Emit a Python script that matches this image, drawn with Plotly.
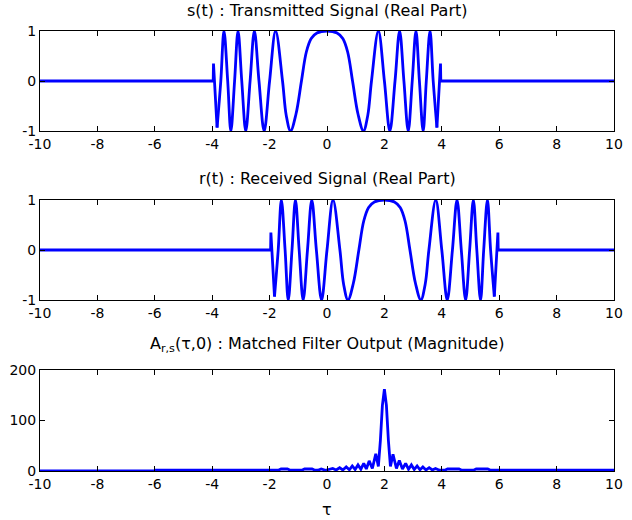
import plotly.graph_objects as go

# ---------------- data ----------------
# s(t): transmitted signal, real part (oscillating core, |t| < 3.9)
s_t = [-3.83, -3.70, -3.59, -3.46, -3.35, -3.22, -3.10, -2.97, -2.83, -2.68, -2.53, -2.37,
       -2.19, -2.00, -1.79, -1.55, -1.42, -1.27, -1.08, -0.89, -0.72, -0.55, -0.35, 0.0,
       0.35, 0.55, 0.72, 0.89, 1.08, 1.27, 1.42, 1.55, 1.79, 2.00, 2.19, 2.37, 2.53, 2.68,
       2.83, 2.97, 3.10, 3.22, 3.35, 3.46, 3.59, 3.70, 3.83]
s_v = [-0.93, 0.0, 1.0, 0.0, -1.0, 0.0, 1.0, 0.0, -1.0, 0.0, 1.0, 0.0,
       -1.0, 0.0, 1.0, 0.0, -0.69, -1.0, -0.66, 0.0, 0.58, 0.85, 0.96, 1.0,
       0.96, 0.85, 0.58, 0.0, -0.66, -1.0, -0.69, 0.0, 1.0, 0.0, -1.0, 0.0, 1.0, 0.0,
       -1.0, 0.0, 1.0, 0.0, -1.0, 0.0, 1.0, 0.0, -0.93]
# s(t): flat parts and the jumps at the pulse edges
s_left_t = [-10, -3.965, -3.955, -3.83]
s_left_v = [0.0, 0.0, 0.35, -0.93]
s_right_t = [3.83, 3.955, 3.965, 10]
s_right_v = [-0.93, 0.35, 0.0, 0.0]

# r(t): received signal, real part
r_t = [-1.83, -1.70, -1.59, -1.46, -1.35, -1.22, -1.10, -0.97, -0.83, -0.68, -0.53, -0.37,
       -0.19, 0.00, 0.21, 0.45, 0.58, 0.73, 0.92, 1.11, 1.28, 1.45, 1.65, 2.0,
       2.35, 2.55, 2.72, 2.89, 3.08, 3.27, 3.42, 3.55, 3.79, 4.00, 4.19, 4.37, 4.53, 4.68,
       4.83, 4.97, 5.10, 5.22, 5.35, 5.46, 5.59, 5.70, 5.83]
r_v = [-0.93, 0.0, 1.0, 0.0, -1.0, 0.0, 1.0, 0.0, -1.0, 0.0, 1.0, 0.0,
       -1.0, 0.0, 1.0, 0.0, -0.69, -1.0, -0.66, 0.0, 0.58, 0.85, 0.96, 1.0,
       0.96, 0.85, 0.58, 0.0, -0.66, -1.0, -0.69, 0.0, 1.0, 0.0, -1.0, 0.0, 1.0, 0.0,
       -1.0, 0.0, 1.0, 0.0, -1.0, 0.0, 1.0, 0.0, -0.93]
r_left_t = [-10, -1.965, -1.955, -1.83]
r_left_v = [0.0, 0.0, 0.35, -0.93]
r_right_t = [5.83, 5.955, 5.965, 10]
r_right_v = [-0.93, 0.35, 0.0, 0.0]

# matched filter output magnitude
mf_tau = [-10, -6.0, -5.99, -1.70, -1.60, -1.38, -1.28, -0.88, -0.78, -0.52, -0.42, -0.32,
          -0.20, -0.05, 0.20, 0.32, 0.44, 0.55, 0.67, 0.78, 0.88, 0.98, 1.08, 1.18, 1.28,
          1.37, 1.47, 1.58, 1.70, 1.79, 1.86, 1.93, 2.00, 2.07, 2.14, 2.21, 2.30, 2.42,
          2.52, 2.63, 2.74, 2.84, 2.94, 3.04, 3.14, 3.24, 3.34, 3.45, 3.56, 3.67, 3.78,
          3.92, 4.10, 4.20, 4.60, 4.70, 5.10, 5.20, 5.60, 5.70, 10]
mf_mag = [0.0, 0.0, 1.5, 1.5, 4.0, 4.0, 1.5, 1.5, 4.0, 4.0, 1.5, 1.5,
          4.0, 1.5, 5.0, 2.0, 6.5, 2.0, 8.0, 2.5, 10.0, 3.0, 12.0, 3.5, 15.0,
          4.0, 20.0, 5.0, 34.0, 9.0, 60.0, 130.0, 162.0, 130.0, 60.0, 9.0, 33.0, 5.0,
          21.0, 4.0, 15.0, 3.5, 12.0, 3.0, 10.0, 2.5, 8.0, 2.0, 6.5, 2.0, 5.0,
          1.5, 1.5, 4.0, 4.0, 1.5, 1.5, 4.0, 4.0, 1.5, 1.5]

x_ticks = [-10, -8, -6, -4, -2, 0, 2, 4, 6, 8, 10]
x_tick_labels = ["-10", "-8", "-6", "-4", "-2", "0", "2", "4", "6", "8", "10"]
sig_y_ticks = [-1, 0, 1]
sig_y_labels = ["-1", "0", "1"]
mf_y_ticks = [0, 100, 200]
mf_y_labels = ["0", "100", "200"]

titles = ["s(t) : Transmitted Signal (Real Part)",
          "r(t) : Received Signal (Real Part)",
          "A<sub>r,s</sub>(τ,0) : Matched Filter Output (Magnitude)"]
x_label = "τ"

# ---------------- figure ----------------
BLUE = "rgb(0,0,255)"
LW = 2.8
FONT = "DejaVu Sans"

fig = go.Figure()

def add_line(x, y, xa, ya, shape="linear"):
    fig.add_trace(go.Scatter(x=x, y=y, mode="lines", xaxis=xa, yaxis=ya,
                             line=dict(color=BLUE, width=LW, shape=shape),
                             showlegend=False, hoverinfo="skip"))

add_line(s_left_t, s_left_v, "x", "y")
add_line(s_t, s_v, "x", "y", "spline")
add_line(s_right_t, s_right_v, "x", "y")
add_line(r_left_t, r_left_v, "x2", "y2")
add_line(r_t, r_v, "x2", "y2", "spline")
add_line(r_right_t, r_right_v, "x2", "y2")
add_line(mf_tau, mf_mag, "x3", "y3")

axis_common = dict(showline=True, linecolor="black", linewidth=1, mirror="ticks",
                   ticks="inside", ticklen=5, tickcolor="black", tickwidth=1,
                   showgrid=False, zeroline=False,
                   tickfont=dict(family=FONT, size=14, color="black"))

x_common = dict(axis_common, range=[-10, 10], tickmode="array",
                tickvals=x_ticks, ticktext=x_tick_labels)

domains = [[0.7727, 1.0], [0.3886, 0.6159], [0.0, 0.2295]]

fig.update_layout(
    width=632, height=520,
    margin=dict(l=38, r=9, t=31, b=49),
    paper_bgcolor="white", plot_bgcolor="white",
    hovermode=False,
    xaxis=dict(x_common, anchor="y"),
    yaxis=dict(axis_common, domain=domains[0], range=[-1, 1], tickmode="array",
               tickvals=sig_y_ticks, ticktext=sig_y_labels, anchor="x"),
    xaxis2=dict(x_common, anchor="y2"),
    yaxis2=dict(axis_common, domain=domains[1], range=[-1, 1], tickmode="array",
                tickvals=sig_y_ticks, ticktext=sig_y_labels, anchor="x2"),
    xaxis3=dict(x_common, anchor="y3"),
    yaxis3=dict(axis_common, domain=domains[2], range=[0, 200], tickmode="array",
                tickvals=mf_y_ticks, ticktext=mf_y_labels, anchor="x3"),
)

title_y = [1.0477, 0.6659, 0.2864]
for txt, ty in zip(titles, title_y):
    fig.add_annotation(text=txt, x=0.5, y=ty, xref="paper", yref="paper",
                       xanchor="center", yanchor="middle", showarrow=False,
                       font=dict(family=FONT, size=16, color="black"))

fig.add_annotation(text=x_label, x=0.5, y=-0.0864, xref="paper", yref="paper",
                   xanchor="center", yanchor="middle", showarrow=False,
                   font=dict(family=FONT, size=16, color="black"))

# remove the default 8 px page margin so the 632x520 figure fills the window
fig.write_html("out.html",
               config={"displayModeBar": False},
               post_script="document.body.style.margin='0px';"
                           "document.body.style.overflow='hidden';")
